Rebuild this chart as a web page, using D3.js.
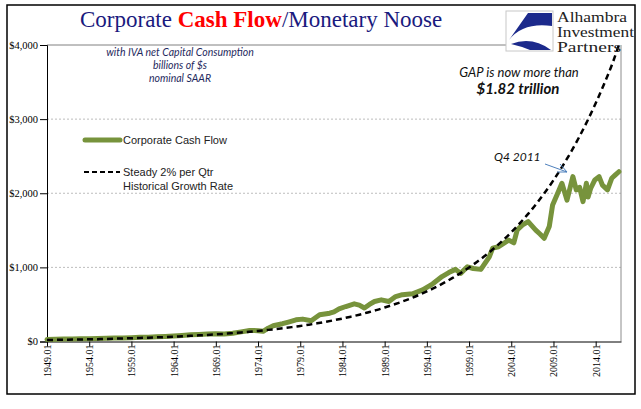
<!DOCTYPE html>
<html><head><meta charset="utf-8">
<script src="https://cdn.jsdelivr.net/npm/d3@7"></script>
<style>body{margin:0;background:#fff}svg{display:block}</style>
</head><body>
<svg id="c" width="641" height="409"></svg>
<script>
// ---- data ----
const cashYears = [1949,1950,1951,1952,1953,1954,1955,1956,1957,1958,1959,1960,1961,1962,1963,1964,1965,1966,1967,1968,1969,1970,1971,1972,1973,1973.5,1974,1974.6,1975.2,1975.8,1976.9,1977.6,1978.5,1979.3,1980.3,1981.3,1982.5,1983,1983.6,1984.4,1985.4,1986,1986.6,1987.2,1987.8,1988.6,1989.5,1990.3,1991.1,1992.3,1993.5,1994.7,1995.8,1996.6,1997.4,1998,1998.8,1999.5,2000.4,2001.4,2001.8,2002.5,2003.7,2004.3,2004.7,2005.3,2006,2006.9,2007.4,2007.9,2008.5,2008.9,2009.5,2010,2010.6,2011.3,2011.7,2012.1,2012.5,2012.9,2013.1,2013.4,2013.9,2014.4,2014.8,2015.4,2015.9,2016.3,2016.75];
const cashValues = [28,30,33,34,36,38,42,44,46,48,52,56,58,64,68,74,82,92,96,100,104,102,112,130,148,150,146,138,180,212,240,262,292,302,280,360,382,400,440,472,508,490,452,500,540,562,540,606,632,643,697,778,876,930,973,919,1008,985,973,1143,1259,1278,1368,1332,1503,1570,1617,1503,1450,1393,1550,1842,2000,2135,1907,2224,2045,2080,1887,2135,1950,2064,2180,2224,2109,2045,2202,2244,2290];
const growthYears = [1949,1950,1951,1952,1953,1954,1955,1956,1957,1958,1959,1960,1961,1962,1963,1964,1965,1966,1967,1968,1969,1970,1971,1972,1973,1974,1975,1976,1977,1978,1979,1980,1981,1982,1983,1984,1985,1986,1987,1988,1989,1990,1991,1992,1993,1994,1995,1996,1997,1998,1999,2000,2001,2002,2003,2004,2005,2006,2007,2008,2009,2010,2011,2012,2013,2014,2015,2016,2016.75];
const growthValues = [20,22,24,26,28,30,32,35,38,41,44,48,52,56,60,65,71,76,83,89,96,104,113,122,132,142,154,166,180,194,210,227,245,265,287,310,335,362,392,423,458,495,535,578,625,676,730,790,854,923,998,1079,1166,1261,1363,1473,1593,1722,1862,2013,2176,2352,2543,2749,2972,3213,3474,3756,4000];
const yTicks = [0,1000,2000,3000,4000];
const xTickYears = [1949,1954,1959,1964,1969,1974,1979,1984,1989,1994,1999,2004,2009,2014];
const xTickLabels = ["1949.01","1954.01","1959.01","1964.01","1969.01","1974.01","1979.01","1984.01","1989.01","1994.01","1999.01","2004.01","2009.01","2014.01"];
const legendLabels = ["Corporate Cash Flow","Steady 2% per Qtr","Historical Growth Rate"];
const noteLines = ["with IVA net Capital Consumption","billions of $s","nominal SAAR"];
const logoLines = ["Alhambra","Investment","Partners"];

// ---- layout ----
const svg = d3.select("#c");
const L = 47, R = 621, T = 45, B = 341.5;
const x = d3.scaleLinear().domain([1949, 2017]).range([L, R]);
const y = d3.scaleLinear().domain([0, 4000]).range([B, T]);

// frame
svg.append("rect").attr("x",7).attr("y",5).attr("width",628).attr("height",389)
  .attr("fill","none").attr("stroke","#000").attr("stroke-width",1.5);

// gridlines
svg.append("g").selectAll("line").data(yTicks.filter(d=>d>0 && d<4000)).join("line")
  .attr("x1",L).attr("x2",R).attr("y1",d=>y(d)).attr("y2",d=>y(d))
  .attr("stroke","#bdbdbd").attr("stroke-dasharray","2,2");
// top line & right border
svg.append("line").attr("x1",L).attr("x2",506).attr("y1",y(4000)).attr("y2",y(4000)).attr("stroke","#808080");
svg.append("line").attr("x1",R).attr("x2",R).attr("y1",T).attr("y2",B).attr("stroke","#8c8c8c");

// y axis
const yAxis = d3.axisLeft(y).tickValues(yTicks).tickFormat(d3.format("$,")).tickSize(7).tickPadding(2);
const gy = svg.append("g").attr("transform",`translate(${L},0)`).call(yAxis);
gy.select(".domain").attr("stroke","#000");
gy.selectAll(".tick line").attr("stroke","#000");
gy.selectAll("text").attr("font-family","'Liberation Serif',serif").attr("font-size",10.5).attr("fill","#000");

// x axis
const xAxis = d3.axisBottom(x).tickValues(xTickYears).tickFormat((d,i)=>xTickLabels[i]).tickSize(5).tickSizeOuter(0);
const gx = svg.append("g").attr("transform",`translate(0,${B})`).call(xAxis);
gx.select(".domain").attr("stroke","#000");
gx.selectAll(".tick line").attr("stroke","#000");
gx.selectAll("text").attr("font-family","'Liberation Serif',serif").attr("font-size",10).attr("fill","#000")
  .attr("text-anchor","end").attr("transform","translate(0,3) rotate(-90)").attr("x",0).attr("y",0).attr("dx",0).attr("dy","0.35em");

// lines
const cash = cashYears.map((d,i)=>[d,cashValues[i]]);
const growth = growthYears.map((d,i)=>[d,growthValues[i]]);
svg.append("path").datum(cash).attr("fill","none").attr("stroke","#77933C").attr("stroke-width",5)
  .attr("stroke-linejoin","round").attr("stroke-linecap","round")
  .attr("d",d3.line().x(d=>x(d[0])).y(d=>y(d[1])));
svg.append("path").datum(growth).attr("fill","none").attr("stroke","#000").attr("stroke-width",2.5)
  .attr("stroke-dasharray","6,4")
  .attr("d",d3.line().x(d=>x(d[0])).y(d=>y(d[1])).curve(d3.curveMonotoneX));

// title
const title = svg.append("text").attr("x",80).attr("y",27).attr("font-family","'Liberation Serif',serif").attr("font-size",23).attr("fill","#1a1a7e");
title.append("tspan").text("Corporate ");
title.append("tspan").text("Cash Flow").attr("fill","#ff0000").attr("font-weight","bold");
title.append("tspan").text("/Monetary Noose");

// logo
const lg = svg.append("g");
lg.append("rect").attr("x",506).attr("y",11).attr("width",47).attr("height",40).attr("fill","#fff").attr("stroke","#c8c8c8");
lg.append("path").attr("d","M552,13 L528,13 L509,40 Q523,22 552,26 Z").attr("fill","#1c2a8c");
lg.append("path").attr("d","M511,44 Q532,36 551,50 L530,50 Q520,46 511,44 Z").attr("fill","#1c2a8c");
const lt = svg.append("g").attr("font-family","'Liberation Serif',serif").attr("font-size",14).attr("fill","#222");
logoLines.forEach((t,i)=>lt.append("text").attr("x",557).attr("y",22+i*15)
  .attr("textLength",[70,77,64][i]).attr("lengthAdjust","spacingAndGlyphs").text(t));

// note
svg.append("g").selectAll("text").data(noteLines).join("text")
  .attr("x",180).attr("y",(d,i)=>56+i*13).attr("text-anchor","middle")
  .attr("font-family","Lato,sans-serif").attr("font-style","italic").attr("font-size",10.5).attr("fill","#1f2a5e")
  .text(d=>d);

// legend
svg.append("line").attr("x1",85).attr("x2",120).attr("y1",140).attr("y2",140).attr("stroke","#77933C").attr("stroke-width",5).attr("stroke-linecap","round");
svg.append("line").attr("x1",84).attr("x2",120).attr("y1",172).attr("y2",172).attr("stroke","#000").attr("stroke-width",2).attr("stroke-dasharray","5,3");
const lgt = svg.append("g").attr("font-family","'Liberation Sans',Arial,sans-serif").attr("font-size",11).attr("fill","#222");
lgt.append("text").attr("x",123).attr("y",144).text(legendLabels[0]);
lgt.append("text").attr("x",123).attr("y",176).text(legendLabels[1]);
lgt.append("text").attr("x",123).attr("y",190).text(legendLabels[2]);

// annotations
svg.append("text").attr("x",519).attr("y",77).attr("text-anchor","middle").attr("font-family","Lato,sans-serif")
  .attr("font-style","italic").attr("font-size",13).attr("fill","#111").text("GAP is now more than");
svg.append("text").attr("x",518).attr("y",94).attr("text-anchor","middle").attr("font-family","Lato,sans-serif")
  .attr("font-style","italic").attr("font-weight","bold").attr("font-size",15).attr("fill","#111").text("$1.82 trillion");
svg.append("text").attr("x",494).attr("y",161).attr("font-family","Lato,sans-serif")
  .attr("font-style","italic").attr("font-size",12).attr("fill","#111").text("Q4 2011");
// arrow
svg.append("line").attr("x1",545).attr("y1",164).attr("x2",567).attr("y2",172).attr("stroke","#4f81bd").attr("stroke-width",1);
svg.append("path").attr("d","M560,164 L567,172 L557,172").attr("fill","none").attr("stroke","#4f81bd").attr("stroke-width",1);
</script>
</body></html>
